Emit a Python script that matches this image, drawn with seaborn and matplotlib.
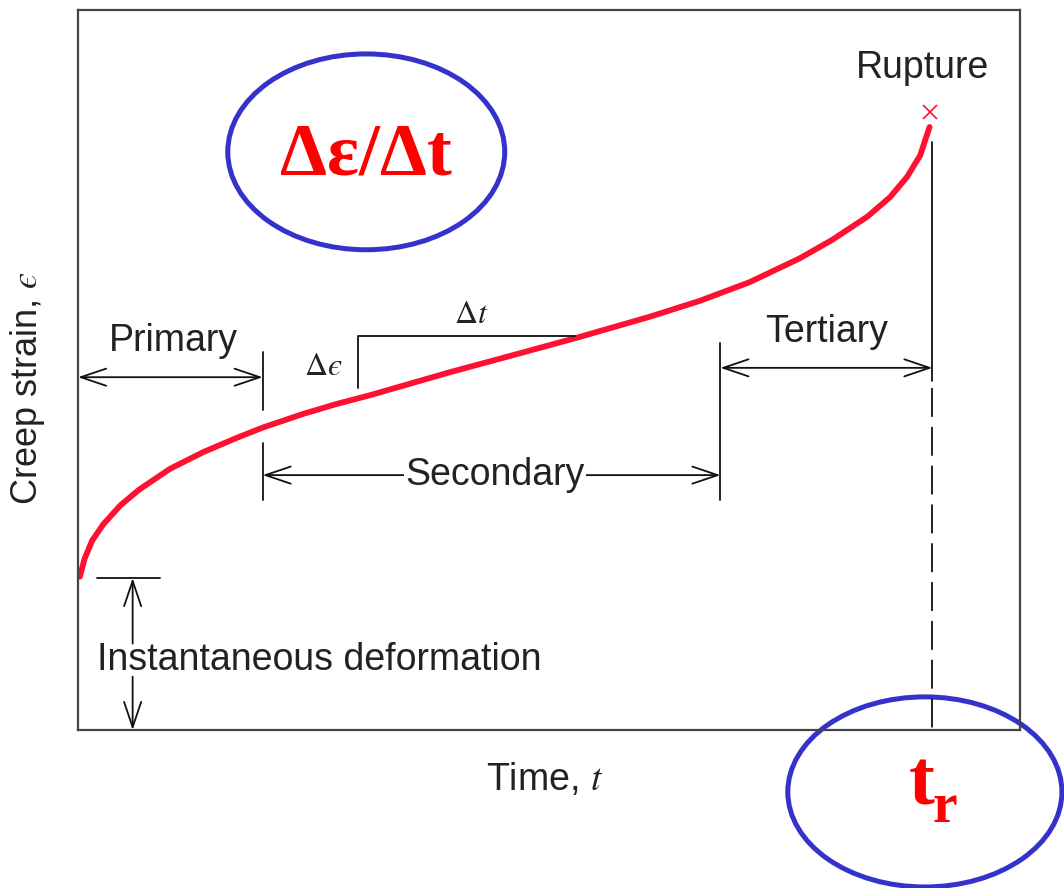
import numpy as np
import pandas as pd
import matplotlib
matplotlib.use("Agg")
import matplotlib.pyplot as plt
from matplotlib.patches import Ellipse
import seaborn as sns

# creep curve (time and strain in arbitrary units, 0-100)
time = [0.2, 0.7, 1.5, 2.7, 4.5, 6.5, 9.8, 13.3, 16.9, 19.6, 23.9, 27.5, 31.0, 39.5,
        46.0, 53.0, 60.7, 66.0, 71.3, 76.6, 80.1, 83.8, 86.2, 88.0, 89.4, 90.4]
strain = [21.3, 23.8, 26.3, 28.6, 31.2, 33.4, 36.3, 38.6, 40.6, 42.0, 43.9, 45.3, 46.5, 49.7,
          52.0, 54.5, 57.4, 59.6, 62.2, 65.5, 68.1, 71.3, 74.0, 76.8, 79.8, 83.75]
rupture = (90.4, 85.8)
t_primary_end = 19.6
t_secondary_end = 68.2
t_rupture = 90.7

df = pd.DataFrame({"t": time, "e": strain})

sns.set_theme(style="white")
plt.rcParams["font.family"] = ["Liberation Sans", "DejaVu Sans"]
plt.rcParams["mathtext.fontset"] = "stix"

fig = plt.figure(figsize=(10.64, 8.88), dpi=100)
ax = fig.add_axes([78 / 1064, 158 / 888, 942 / 1064, 720 / 888])
ax.set_xlim(0, 100)
ax.set_ylim(0, 100)
ax.set_xticks([])
ax.set_yticks([])
for s in ax.spines.values():
    s.set_color("#444444")
    s.set_linewidth(1.6)

sns.lineplot(data=df, x="t", y="e", ax=ax, color="#ff1030", lw=4.2, sort=False,
             solid_capstyle="round", solid_joinstyle="round")
ax.plot(*rupture, marker="x", color="#ff1030", ms=10, mew=1.2)
ax.set_xlabel("")
ax.set_ylabel("")

txt = "#222222"
fs = 27
blk = dict(color="#111111", lw=1.3)
arrow = dict(arrowstyle="<->, head_length=0.65, head_width=0.22", color="#111111",
             lw=1.3, shrinkA=0, shrinkB=0, mutation_scale=28)

# rupture vertical: solid then dashed
ax.plot([t_rupture, t_rupture], [81.7, 48.5], **blk)
ax.plot([t_rupture, t_rupture], [47.5, 0], color="#111111", lw=1.3, dashes=(16, 5.5))

# primary
ax.annotate("", xy=(0, 49.0), xytext=(t_primary_end, 49.0), arrowprops=arrow)
ax.plot([t_primary_end] * 2, [52.5, 44.4], **blk)
ax.plot([t_primary_end] * 2, [39.9, 31.9], **blk)
ax.text(10.1, 52.7, "Primary", ha="center", va="baseline", fontsize=fs, color=txt)

# secondary
ax.annotate("", xy=(t_primary_end, 35.4), xytext=(t_secondary_end, 35.4), arrowprops=arrow)
ax.text(44.3, 35.4, "Secondary", ha="center", va="center", fontsize=fs, color=txt,
        bbox=dict(facecolor="white", edgecolor="none", pad=1))

# tertiary
ax.plot([t_secondary_end] * 2, [53.75, 31.9], **blk)
ax.annotate("", xy=(t_secondary_end, 50.3), xytext=(t_rupture, 50.3), arrowprops=arrow)
ax.text(79.5, 53.9, "Tertiary", ha="center", va="baseline", fontsize=fs, color=txt)

ax.text(89.6, 90.6, "Rupture", ha="center", va="baseline", fontsize=fs, color=txt)

# delta bracket
ax.plot([29.7, 29.7, 52.8], [47.5, 54.7, 54.7], **blk)
ax.text(26.0, 50.4, r"$\Delta ϵ$", ha="center", va="center", fontsize=23, color=txt)
ax.text(41.8, 57.6, r"$\Delta t$", ha="center", va="center", fontsize=23, color=txt)

# instantaneous deformation
ax.plot([2.0, 8.7], [21.1, 21.1], **blk)
up = dict(arrowstyle="->, head_length=0.65, head_width=0.22", color="#111111",
          lw=1.3, shrinkA=0, shrinkB=0, mutation_scale=28)
ax.annotate("", xy=(5.8, 21.1), xytext=(5.8, 12.0), arrowprops=up)
ax.annotate("", xy=(5.8, 0), xytext=(5.8, 7.4), arrowprops=up)
ax.text(2.0, 8.4, "Instantaneous deformation", ha="left", va="baseline",
        fontsize=fs, color=txt)

fig.text(545 / 1064, 1 - 790 / 888, r"Time, $t$", ha="center", va="baseline",
         fontsize=fs, color=txt)
fig.text(28 / 1064, 1 - 388 / 888, r"Creep strain, $ϵ$", ha="center", va="center",
         rotation=90, fontsize=fs - 1, color=txt)

# highlighted annotations
ax.add_patch(Ellipse((30.6, 80.3), 29.4, 27.2, fill=False, edgecolor="#3333cc",
                     lw=3.6, clip_on=False))
ax.add_patch(Ellipse((89.9, -8.6), 29.1, 26.4, fill=False, edgecolor="#3333cc",
                     lw=3.6, clip_on=False))
ax.text(30.6, 79.6, "Δε/Δt", ha="center", va="center", fontsize=54, color="red",
        fontweight="bold", family=["Liberation Serif", "DejaVu Serif"])
ax.text(89.6, -10.4, "t", ha="center", va="baseline", fontsize=56, color="red",
        fontweight="bold", family=["Liberation Serif", "DejaVu Serif"], clip_on=False)
ax.text(90.7, -12.8, "r", ha="left", va="baseline", fontsize=40, color="red",
        fontweight="bold", family=["Liberation Serif", "DejaVu Serif"], clip_on=False)

fig.savefig("out.png", dpi=100)
